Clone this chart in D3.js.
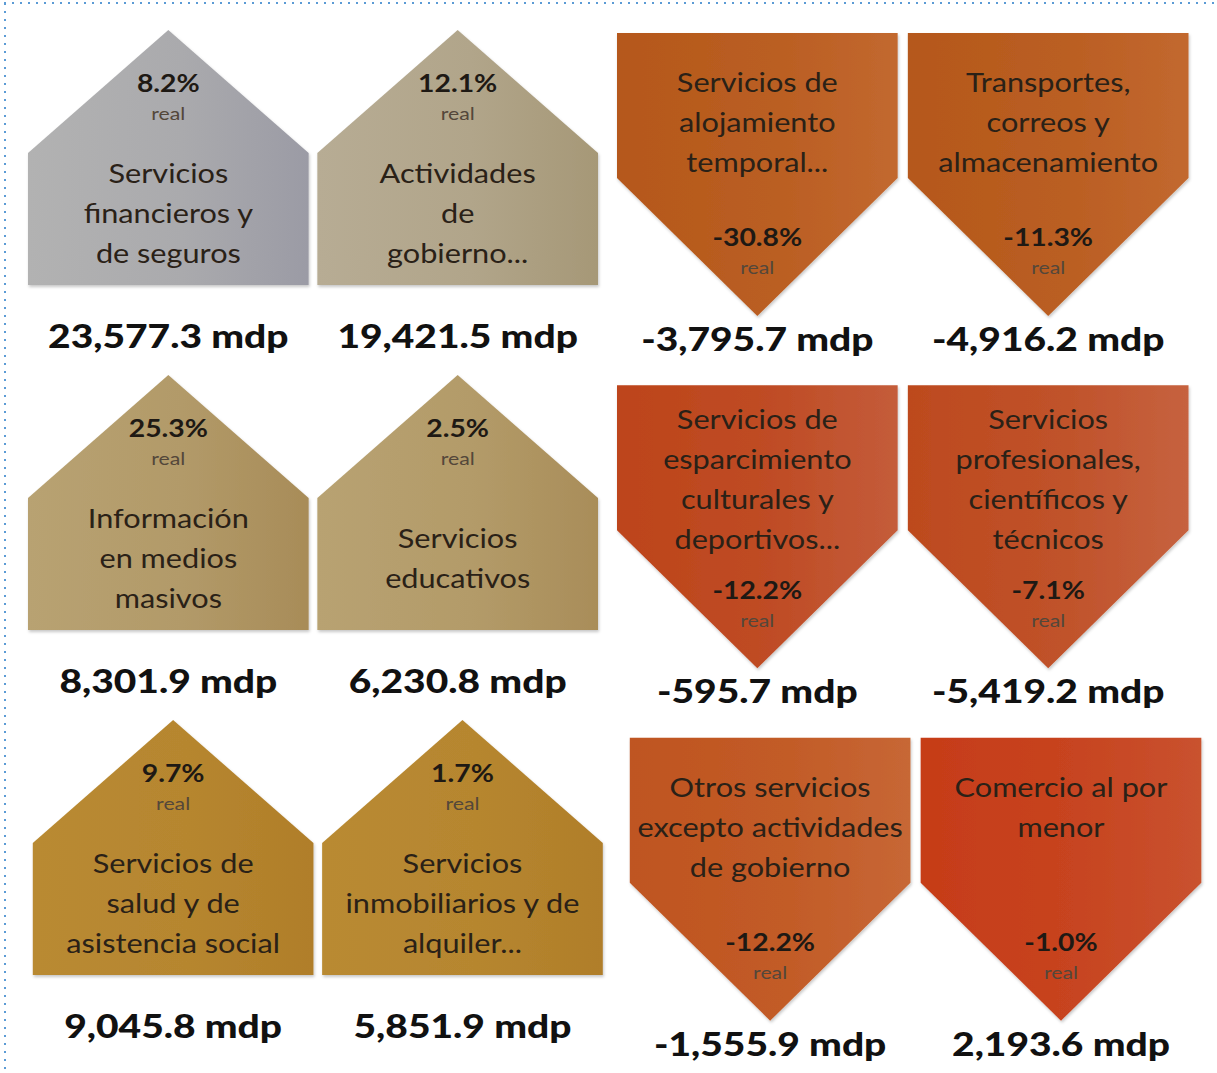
<!DOCTYPE html>
<html>
<head>
<meta charset="utf-8">
<script src="https://cdn.jsdelivr.net/npm/d3@7"></script>
<style>
  body { margin: 0; background: #fff; }
  svg { display: block; font-family: Lato, "Open Sans", sans-serif; }
</style>
</head>
<body>
<svg id="chart" width="1217" height="1073"></svg>
<script>
// sectors, left half (growth) then right half (decline), row by row
const sectorLines = [
  ["Servicios", "financieros y", "de seguros"],
  ["Actividades", "de", "gobierno..."],
  ["Información", "en medios", "masivos"],
  ["Servicios", "educativos"],
  ["Servicios de", "salud y de", "asistencia social"],
  ["Servicios", "inmobiliarios y de", "alquiler..."],
  ["Servicios de", "alojamiento", "temporal..."],
  ["Transportes,", "correos y", "almacenamiento"],
  ["Servicios de", "esparcimiento", "culturales y", "deportivos..."],
  ["Servicios", "profesionales,", "científicos y", "técnicos"],
  ["Otros servicios", "excepto actividades", "de gobierno"],
  ["Comercio al por", "menor"]
];
const realPct = [8.2, 12.1, 25.3, 2.5, 9.7, 1.7, -30.8, -11.3, -12.2, -7.1, -12.2, -1.0];
const mdp = [23577.3, 19421.5, 8301.9, 6230.8, 9045.8, 5851.9, -3795.7, -4916.2, -595.7, -5419.2, -1555.9, 2193.6];

// gradient colours per card (left -> right)
const fills = [
  ["#b2b2b2", "#9b9ba5"], ["#b7ac94", "#a69877"], ["#b8a272", "#a88c58"],
  ["#b8a272", "#a98d59"], ["#b98a32", "#b07e2a"], ["#b98a32", "#b07e2a"],
  ["#b5581b", "#c2682f"], ["#b5581b", "#c2682f"], ["#bd441a", "#c45c3a"],
  ["#bd4a1e", "#c6623f"], ["#bf5520", "#c76735"], ["#c63c18", "#c9522f"]
];

const svg = d3.select("#chart");
const W = 1217, H = 1073;
const sx = 1.18; // horizontal stretch of the original text
const fmtPct = v => d3.format(".1f")(v).replace("\u2212", "-") + "%";
const fmtMdp = v => d3.format(",.1f")(v).replace("\u2212", "-") + " mdp";

const cards = sectorLines.map((lines, i) => {
  const up = realPct[i] >= 0;
  const k = up ? i : i - 6;
  return { i, lines, pct: realPct[i], val: mdp[i], up, col: k % 2, row: Math.floor(k / 2) };
});

const colLeft = d3.scaleBand().domain([0, 1]).range([28, 598]).paddingInner(0.03);
const colRight = d3.scaleBand().domain([0, 1]).range([617, 1190]).paddingInner(0.03);
const rowLeft = d3.scaleBand().domain([0, 1, 2]).range([30, 1065]);
const rowRight = d3.scaleBand().domain([0, 1, 2]).range([33, 1090]);
// the bottom row sits a little to the right in the original
const rowShift = [0, 0, 8];

const defs = svg.append("defs");
defs.append("filter").attr("id", "sh")
  .attr("x", "-5%").attr("y", "-5%").attr("width", "112%").attr("height", "115%")
  .append("feDropShadow").attr("dx", 1).attr("dy", 2).attr("stdDeviation", 1.5)
  .attr("flood-color", "#000").attr("flood-opacity", 0.22);

cards.forEach(d => {
  const g = defs.append("linearGradient").attr("id", "gr" + d.i)
    .attr("x1", "0%").attr("x2", "100%").attr("y1", "0%").attr("y2", "0%");
  g.append("stop").attr("offset", "0%").attr("stop-color", fills[d.i][0]);
  g.append("stop").attr("offset", "55%").attr("stop-color", d3.interpolateRgb(fills[d.i][0], fills[d.i][1])(0.35));
  g.append("stop").attr("offset", "100%").attr("stop-color", fills[d.i][1]);
});

// dotted frame
svg.append("line").attr("x1", 4).attr("x2", W).attr("y1", 3).attr("y2", 3)
  .attr("stroke", "#5b9bd5").attr("stroke-width", 2).attr("stroke-dasharray", "2,6");
svg.append("line").attr("x1", 5).attr("x2", 5).attr("y1", 3).attr("y2", H)
  .attr("stroke", "#5b9bd5").attr("stroke-width", 2).attr("stroke-dasharray", "2,6");

const line = d3.line();

const card = svg.selectAll("g.card").data(cards).join("g").attr("class", "card")
  .attr("transform", d => {
    const x = (d.up ? colLeft(d.col) : colRight(d.col)) + rowShift[d.row] * (d.up ? 0.6 : 1.6);
    const y = d.up ? rowLeft(d.row) : rowRight(d.row);
    return `translate(${x},${y})`;
  });

const bw = colLeft.bandwidth();
const cx = bw / 2;

card.append("path")
  .attr("d", d => d.up
    ? line([[0, 255], [0, 123], [cx, 0], [bw, 123], [bw, 255]]) + "Z"
    : line([[0, 0], [bw, 0], [bw, 145], [cx, 283], [0, 145]]) + "Z")
  .attr("fill", d => `url(#gr${d.i})`)
  .attr("filter", "url(#sh)");

function stretched(sel, y, size, weight, color, text) {
  return sel.append("text")
    .attr("transform", `translate(${cx},${y}) scale(${sx},1)`)
    .attr("text-anchor", "middle")
    .attr("dy", "0.35em")
    .attr("font-size", size)
    .attr("font-weight", weight)
    .attr("fill", color)
    .text(text);
}

card.each(function(d) {
  const g = d3.select(this);
  const n = d.lines.length;
  const lh = 40;
  let first, pctY;
  if (d.up) {
    first = 184 - (n - 1) * lh / 2;
    pctY = 54;
  } else {
    first = 50 - Math.max(0, n - 3) * 15;
    pctY = 205;
  }
  d.lines.forEach((t, j) => stretched(g, first + j * lh, 26, 400, "#2a2117", t));
  stretched(g, pctY, 24, 700, "#1e1914", fmtPct(d.pct));
  stretched(g, pctY + 30, 18, 400, "#54473a", "real");
  stretched(g, 318, 33, 900, "#111", fmtMdp(d.val)).attr("dy", null);
});
</script>
</body>
</html>
